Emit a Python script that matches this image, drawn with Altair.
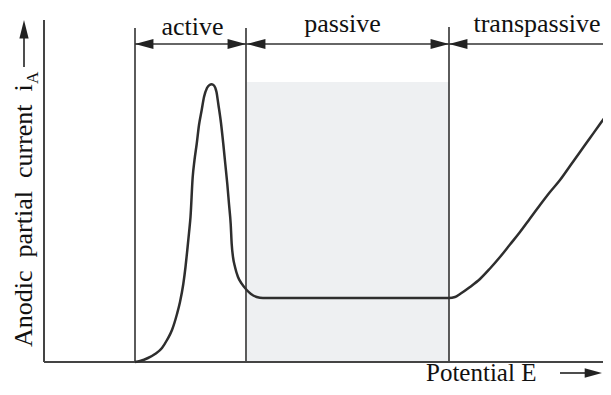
import altair as alt
import pandas as pd

# ---- data (potential E, anodic current i, in arbitrary plot units) ----
E_curve = [91, 96, 104, 111, 118, 123, 128, 133, 136, 139.3, 141.5, 143.3, 145, 146.5,
           148.7, 150.5, 152.7, 155, 157.7, 160, 163, 165.5, 167.7, 170, 172.5, 174.3,
           177, 179.3, 181.3, 183.3, 185, 186.7, 187.7, 189, 191, 194, 197.7, 202.7,
           207, 212.7, 219, 405, 411, 416, 426, 436, 446, 456, 466, 476, 486, 496, 506,
           516, 526, 536, 546, 556, 567]
i_curve = [0, 1, 4, 8, 14, 22, 32, 48, 60, 78, 95, 112, 129, 145, 185, 202, 218, 237,
           252, 265, 274, 277, 277.7, 276.5, 270, 258, 239, 218, 198, 178, 158, 138,
           118, 105, 95, 85, 78.3, 72, 68, 65, 64, 64, 65, 68, 75, 83, 93.5, 105, 117.5,
           130, 143.5, 157, 170, 182, 196, 210, 224, 238, 253.3]

region_names = ["active", "passive", "transpassive"]
region_start = [91, 203, 405]
region_end = [202, 405, 567]
region_label_x = [148.5, 298.5, 493]
region_label_y = [327, 330, 330]
boundaries = [91, 202, 405]
boundary_top = [334, 334, 335]
passive_top = 280

E_MAX = 567      # end of the drawn E range
E_VIEW = 559     # visible part of the E range
I_MAX = 342
ARROW_Y = 318

FONT = "Liberation Serif"
INK = "#333333"

xs = alt.Scale(domain=[0, E_VIEW], nice=False, zero=False)
ys = alt.Scale(domain=[0, I_MAX], nice=False, zero=False)

curve_df = pd.DataFrame({"E": E_curve, "i": i_curve})
shade_df = pd.DataFrame({"x": [region_start[1]], "x2": [region_end[1]], "y": [0], "y2": [passive_top]})
bound_df = pd.DataFrame({"x": boundaries, "y": [0] * 3, "y2": boundary_top})
label_df = pd.DataFrame({"name": region_names, "x": region_label_x, "y": region_label_y})

X = lambda f: alt.X(f, type="quantitative", scale=xs, axis=None)
Y = lambda f: alt.Y(f, type="quantitative", scale=ys, axis=None)

shade = alt.Chart(shade_df).mark_rect(color="#eef0f2").encode(
    x=X("x"), x2="x2", y=Y("y"), y2="y2")

bounds = alt.Chart(bound_df).mark_rule(color=INK, strokeWidth=1.6).encode(
    x=X("x"), y=Y("y"), y2="y2")

axes_df = pd.DataFrame({"x": [0, 0], "x2": [0, E_MAX], "y": [0, 0], "y2": [I_MAX, 0]})
axes = alt.Chart(axes_df).mark_rule(color="#444444", strokeWidth=2).encode(
    x=X("x"), x2="x2", y=Y("y"), y2="y2")

arrow_line_df = pd.DataFrame({"x": [region_start[0]], "x2": [E_MAX], "y": [ARROW_Y]})
arrow_line = alt.Chart(arrow_line_df).mark_rule(color=INK, strokeWidth=1.6).encode(
    x=X("x"), x2="x2", y=Y("y"))

LEFT = "M0,0L2,-0.55L2,0.55Z"
RIGHT = "M0,0L-2,-0.55L-2,0.55Z"
UP = "M0,0L-0.5,2L0.5,2Z"

heads_left_df = pd.DataFrame({"x": [91, 203, 405], "y": [ARROW_Y] * 3})
heads_right_df = pd.DataFrame({"x": [202, 405], "y": [ARROW_Y] * 2})
heads_left = alt.Chart(heads_left_df).mark_point(
    shape=LEFT, size=340, filled=True, color="#222222", opacity=1).encode(x=X("x"), y=Y("y"))
heads_right = alt.Chart(heads_right_df).mark_point(
    shape=RIGHT, size=340, filled=True, color="#222222", opacity=1).encode(x=X("x"), y=Y("y"))

labels = alt.Chart(label_df).mark_text(
    font=FONT, fontSize=26, color="#111111", align="center", baseline="alphabetic").encode(
    x=X("x"), y=Y("y"), text="name")

curve = alt.Chart(curve_df).mark_line(
    color="#2e2e2e", strokeWidth=2.5, interpolate="monotone").encode(
    x=X("E"), y=Y("i"))

# axis titles with arrows
ylab_df = pd.DataFrame({"x": [-12], "y": [15], "t": ["Anodic\u00a0 partial\u00a0 current\u00a0 i"]})
ylab = alt.Chart(ylab_df).mark_text(
    font=FONT, fontSize=26, color="#111111", angle=270, align="left", baseline="alphabetic").encode(
    x=X("x"), y=Y("y"), text="t")
ysub_df = pd.DataFrame({"x": [-6], "y": [278], "t": ["A"]})
ysub = alt.Chart(ysub_df).mark_text(
    font=FONT, fontSize=17, color="#111111", angle=270, align="left", baseline="alphabetic").encode(
    x=X("x"), y=Y("y"), text="t")
yarrow_df = pd.DataFrame({"x": [-20], "y": [295], "y2": [326]})
yarrow = alt.Chart(yarrow_df).mark_rule(color="#222222", strokeWidth=1.6).encode(
    x=X("x"), y=Y("y"), y2="y2")
yhead = alt.Chart(pd.DataFrame({"x": [-20], "y": [342]})).mark_point(
    shape=UP, size=340, filled=True, color="#222222", opacity=1).encode(x=X("x"), y=Y("y"))

xlab_df = pd.DataFrame({"x": [382], "y": [-19], "t": ["Potential E"]})
xlab = alt.Chart(xlab_df).mark_text(
    font=FONT, fontSize=25, color="#111111", align="left", baseline="alphabetic").encode(
    x=X("x"), y=Y("y"), text="t")
xarrow_df = pd.DataFrame({"x": [516], "x2": [545], "y": [-11]})
xarrow = alt.Chart(xarrow_df).mark_rule(color="#222222", strokeWidth=1.6).encode(
    x=X("x"), x2="x2", y=Y("y"))
xhead = alt.Chart(pd.DataFrame({"x": [558], "y": [-11]})).mark_point(
    shape=RIGHT, size=300, filled=True, color="#222222", opacity=1).encode(x=X("x"), y=Y("y"))

chart = alt.layer(
    shade, bounds, axes, arrow_line, heads_left, heads_right, labels, curve,
    ylab, ysub, yarrow, yhead, xlab, xarrow, xhead
).properties(
    width=E_VIEW, height=I_MAX,
    autosize=alt.AutoSizeParams(type="none"),
    padding={"left": 36, "top": 12, "right": 0, "bottom": 25},
    background="white",
).configure_view(stroke=None)

chart.save("out.html", embed_options={"renderer": "svg", "actions": False})
